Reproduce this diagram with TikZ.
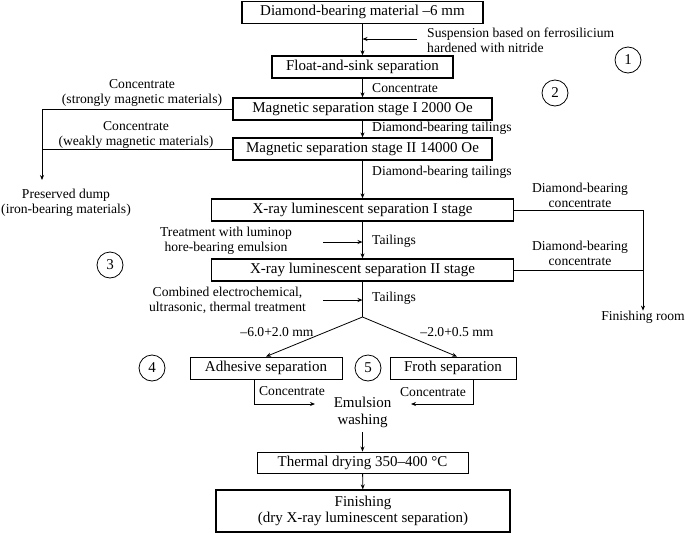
\documentclass[tikz,border=0pt]{standalone}
\usepackage{fontspec}
\setmainfont{Liberation Serif}
\usetikzlibrary{arrows.meta}
\begin{document}
\begin{tikzpicture}[x=1pt,y=-1pt,
  box/.style={draw, line width=1.3pt, inner sep=0pt, minimum height=22pt, font=\fontsize{15}{16}\selectfont},
  tbox/.style={box, line width=0.9pt},
  lbl/.style={inner sep=0pt, font=\fontsize{13.6}{15}\selectfont, align=center},
  lblw/.style={lbl, anchor=west, align=left},
  num/.style={draw, circle, line width=0.8pt, minimum size=26pt, inner sep=0pt, font=\fontsize{15}{16}\selectfont},
  arr/.style={-{Stealth[length=5pt,width=4pt]}, line width=0.8pt},
  ln/.style={line width=0.8pt}]
\useasboundingbox (0,0) rectangle (685,533);

% boxes
\node[box, minimum width=241pt] (b1) at (362.5,12.25) {Diamond-bearing material –6 mm};
\node[box, minimum width=181pt] (b2) at (362.5,67) {Float-and-sink separation};
\node[box, minimum width=259pt] (b3) at (362.5,109) {Magnetic separation stage I 2000 Oe};
\node[box, minimum width=259pt] (b4) at (362.5,149) {Magnetic separation stage II 14000 Oe};
\node[box, minimum width=302pt] (b5) at (362.5,210) {X-ray luminescent separation I stage};
\node[box, minimum width=302pt] (b6) at (362.5,270) {X-ray luminescent separation II stage};
\node[tbox, minimum width=152pt] (b7) at (266,368) {Adhesive separation};
\node[tbox, minimum width=126pt] (b8) at (453,368) {Froth separation};
\node[inner sep=0pt, font=\fontsize{15}{17}\selectfont, align=center] (emul) at (362.5,412.5) {Emulsion\\washing};
\node[tbox, minimum width=211pt, minimum height=21pt] (b9) at (362.5,462.5) {Thermal drying 350–400 °C};
\node[box, minimum width=294pt, minimum height=42pt, align=center, font=\fontsize{15}{16}\selectfont] (b10) at (363,511) {Finishing\\(dry X-ray luminescent separation)};

% circled numbers
\node[num] (n1) at (628,60) {1};
\node[num] (n2) at (555,93) {2};
\node[num] (n3) at (110,265) {3};
\node[num] (n4) at (152,368) {4};
\node[num] (n5) at (368,368) {5};

% labels
\node[lblw] (lsusp) at (427,40.5) {Suspension based on ferrosilicium\\hardened with nitride};
\node[lblw] (lc1) at (372,88) {Concentrate};
\node[lblw] (lt1) at (372,128.5) {Diamond-bearing tailings};
\node[lblw] (lt2) at (372,172) {Diamond-bearing tailings};
\node[lbl] (lsm) at (142,93) {Concentrate\\(strongly magnetic materials)};
\node[lbl] (lwm) at (136,135) {Concentrate\\(weakly magnetic materials)};
\node[lbl] (dump) at (66,203) {Preserved dump\\(iron-bearing materials)};
\node[lbl] (ldc1) at (580,195.5) {Diamond-bearing\\concentrate};
\node[lbl] (ldc2) at (580,253.5) {Diamond-bearing\\concentrate};
\node[lbl] (fin) at (643,317) {Finishing room};
\node[lbl] (ltreat) at (226,241) {Treatment with luminop\\hore-bearing emulsion};
\node[lblw] (ltail1) at (372,241) {Tailings};
\node[lbl] (lcomb) at (227.5,300) {Combined electrochemical,\\ultrasonic, thermal treatment};
\node[lblw] (ltail2) at (372,298) {Tailings};
\node[lbl] (lsz1) at (277,332) {–6.0+2.0 mm};
\node[lbl] (lsz2) at (457,332) {–2.0+0.5 mm};
\node[lbl] (lcon7) at (292,391) {Concentrate};
\node[lbl] (lcon8) at (433,392) {Concentrate};

% coordinates
\coordinate (s1) at (417,39);
\coordinate (s2) at (323,242);
\coordinate (s3) at (323,300);
\coordinate (sp) at (362.5,317);
\coordinate (L1) at (42,109);
\coordinate (L2) at (42,180);
\coordinate (c7) at (254,404);
\coordinate (c7e) at (315,404);
\coordinate (c8) at (473,404);
\coordinate (c8e) at (411,404);

% main flow
\draw[arr] (b1) -- (b2);
\draw[arr] (s1) -- (s1 -| b1.south);
\draw[arr] (b2) -- (b3);
\draw[arr] (b3) -- (b4);
\draw[arr] (b4) -- (b5);
\draw[arr] (b5) -- (b6);
\draw[arr] (s2) -- (s2 -| b5.south);
\draw[ln] (b6) -- (sp);
\draw[arr] (s3) -- (s3 -| b6.south);
\draw[arr] (sp) -- (b7.north);
\draw[arr] (sp) -- ([xshift=4pt]b8.north);
\draw[arr] (b7.south -| c7) -- (c7) -- (c7e);
\draw[arr] (b8.south -| c8) -- (c8) -- (c8e);
\draw[arr] (emul.south |- 0,432) -- (b9);
\draw[arr] (b9) -- (b10);

% side branches
\draw[arr] (b3.west) -- (L1) -- (L2);
\draw[ln] (b4.west) -- (b4.west -| L1);
\draw[arr] (b5.east) -- (b5.east -| fin) -- (fin);
\draw[ln] (b6.east) -- (b6.east -| fin);
\end{tikzpicture}
\end{document}
